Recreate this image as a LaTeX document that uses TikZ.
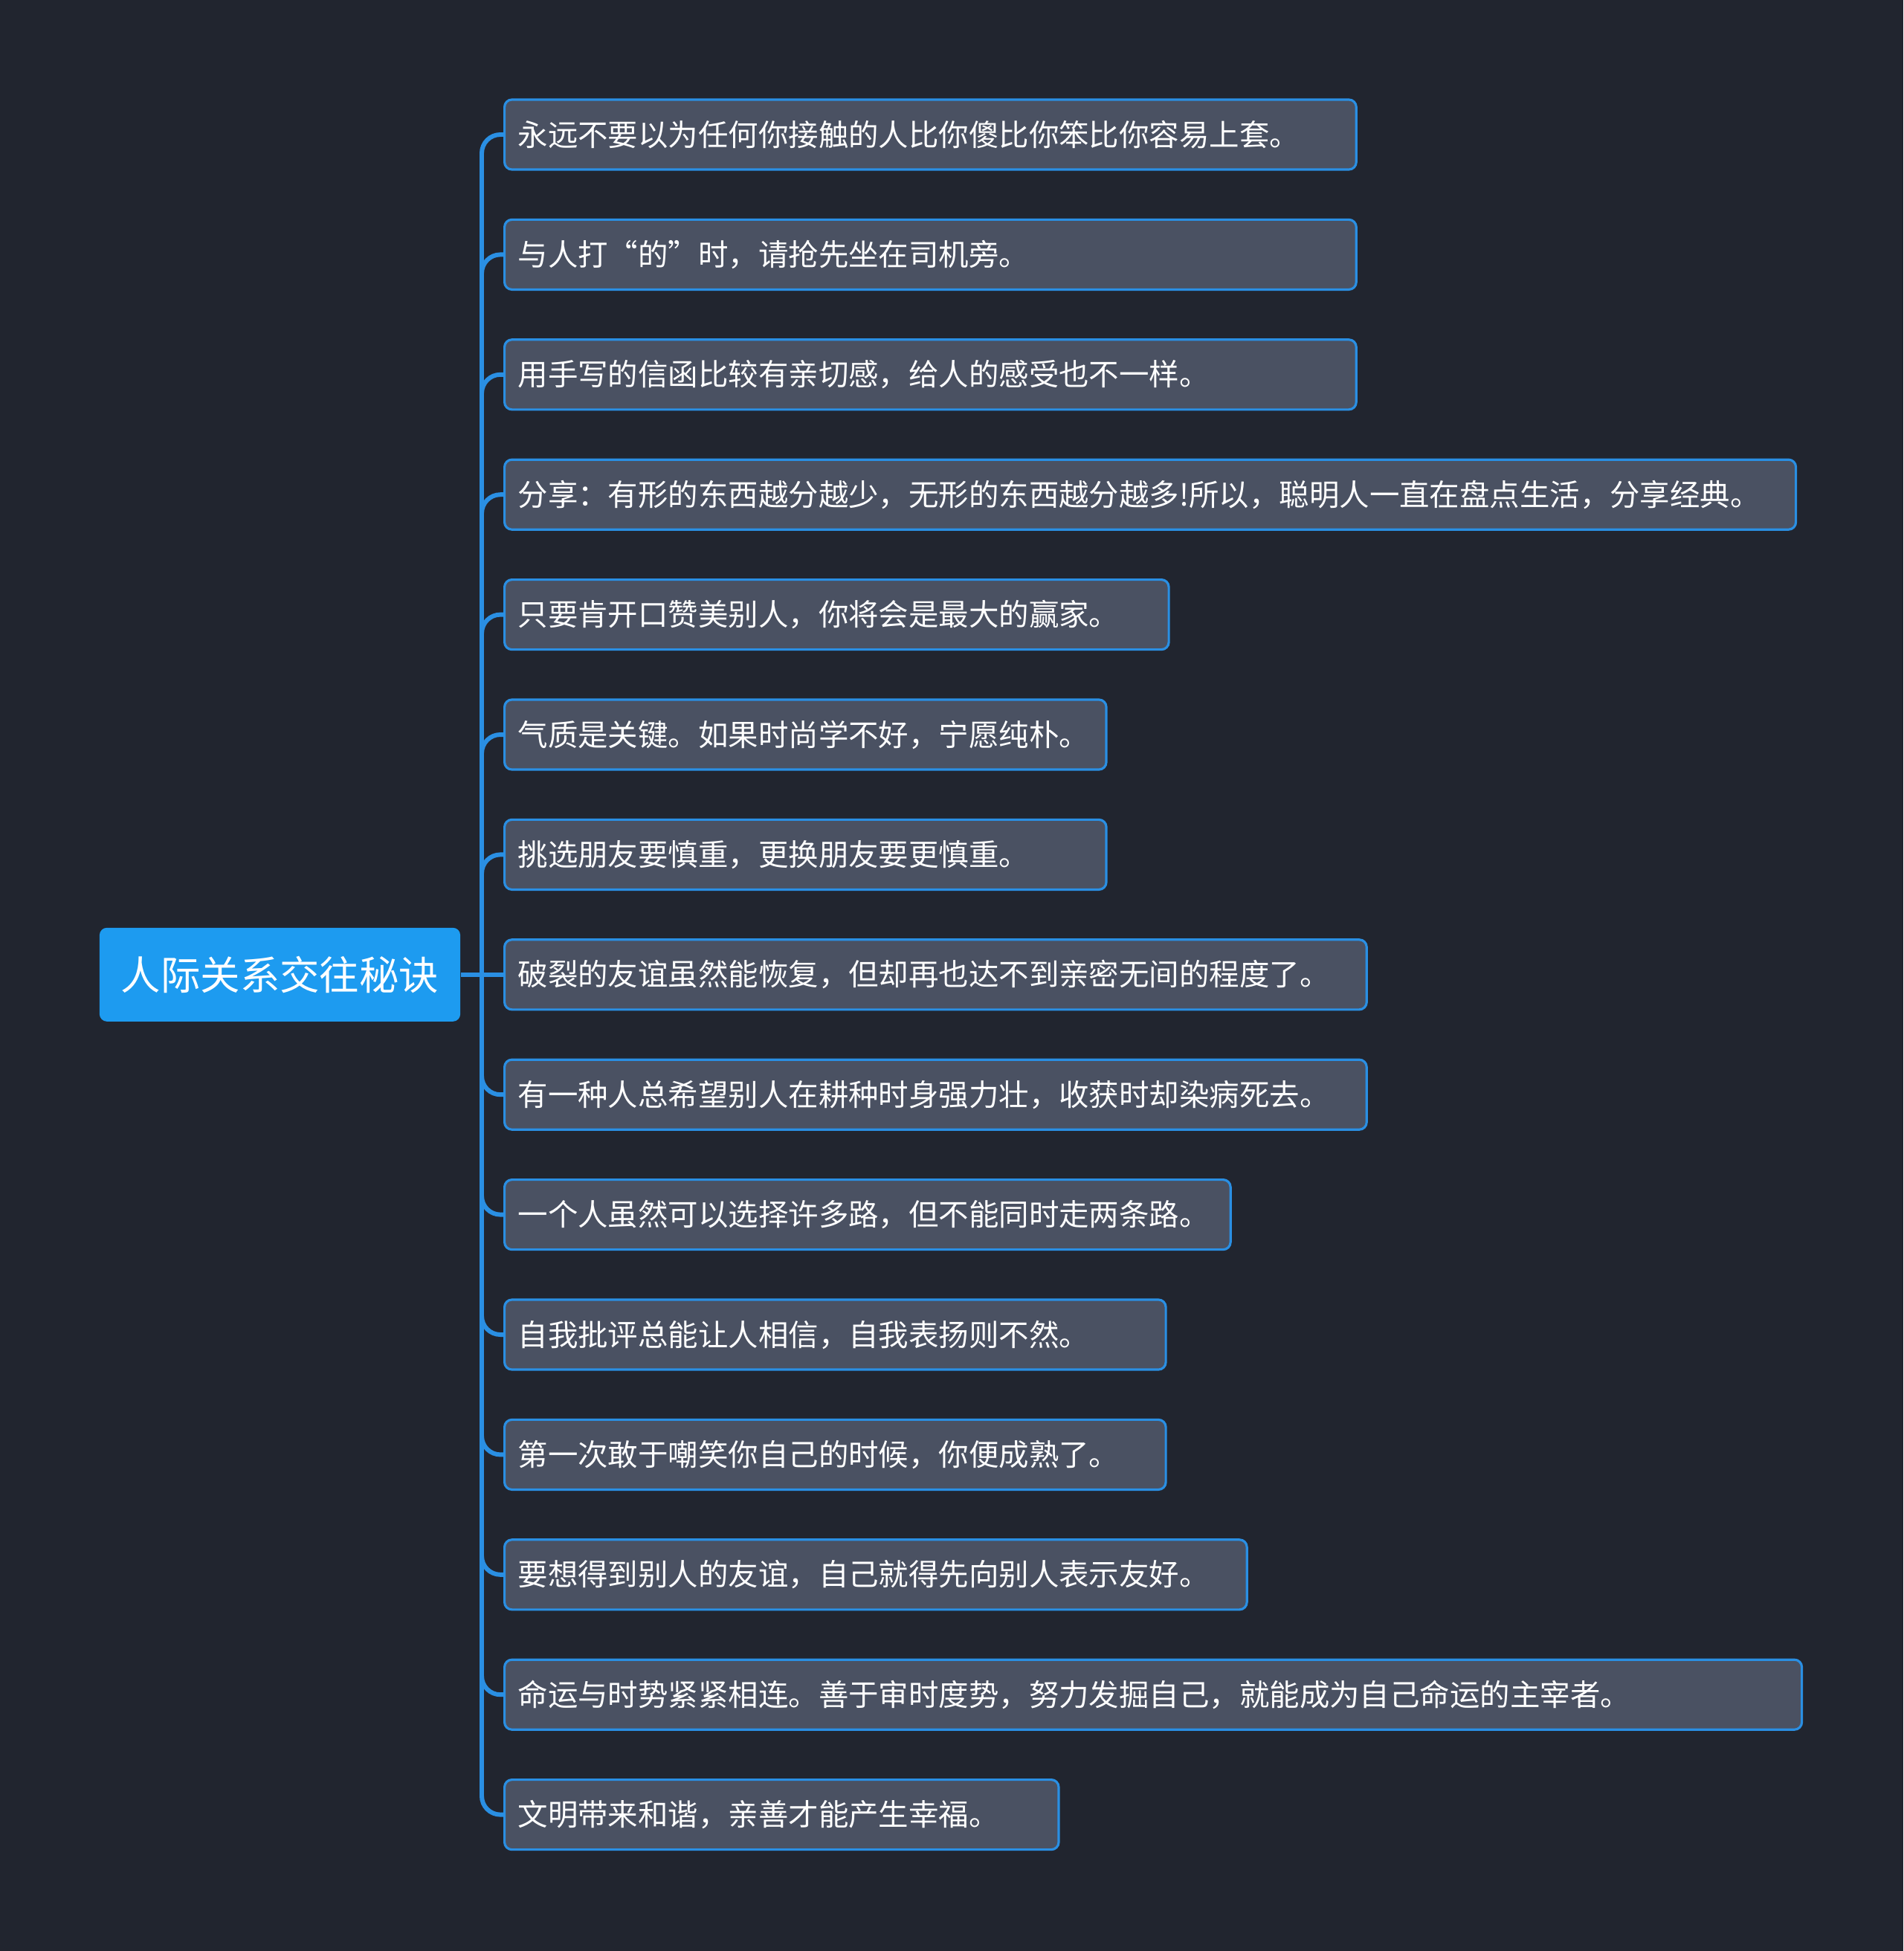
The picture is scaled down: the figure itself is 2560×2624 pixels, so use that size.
\documentclass[tikz,border=0pt]{standalone}
\usepackage{fontspec}
\setmainfont{Noto Sans CJK SC}
\usepackage{tikz}
\definecolor{bgdark}{HTML}{21252F}
\definecolor{rootblue}{HTML}{1D9BF0}
\definecolor{leaffill}{HTML}{4A5162}
\definecolor{edgeblue}{HTML}{2A8FE3}
\begin{document}
\begin{tikzpicture}[x=0.01cm,y=-0.01cm,
  rt/.style={fill=rootblue,rounded corners=0.1cm,text=white,font=\fontsize{15.2}{18}\selectfont,minimum width=4.85cm,minimum height=1.26cm,inner sep=0pt},
  lf/.style={draw=edgeblue,line width=0.9pt,fill=leaffill,rounded corners=0.1cm,text=white,font=\fontsize{11.5}{14}\selectfont,anchor=west,align=left,text width=#1,minimum height=0.94cm,inner xsep=0.18cm,inner ysep=0pt},
  ln/.style={draw=edgeblue,line width=1.7pt,rounded corners=0.25cm}]
\fill[bgdark] (0,0) rectangle (2560,2624);
\node[rt] (main) at (376.5,1310.8) {人际关系交往秘诀};
\node[lf=11.09cm] (s1) at (677,181) {永远不要以为任何你接触的人比你傻比你笨比你容易上套。};
\node[lf=11.09cm] (s2) at (677,342.4) {与人打“的”时，请抢先坐在司机旁。};
\node[lf=11.09cm] (s3) at (677,503.8) {用手写的信函比较有亲切感，给人的感受也不一样。};
\node[lf=17.00cm] (s4) at (677,665.2) {分享：有形的东西越分越少，无形的东西越分越多!所以，聪明人一直在盘点生活，分享经典。};
\node[lf=8.57cm] (s5) at (677,826.6) {只要肯开口赞美别人，你将会是最大的赢家。};
\node[lf=7.73cm] (s6) at (677,988) {气质是关键。如果时尚学不好，宁愿纯朴。};
\node[lf=7.73cm] (s7) at (677,1149.4) {挑选朋友要慎重，更换朋友要更慎重。};
\node[lf=11.23cm] (s8) at (677,1310.8) {破裂的友谊虽然能恢复，但却再也达不到亲密无间的程度了。};
\node[lf=11.23cm] (s9) at (677,1472.2) {有一种人总希望别人在耕种时身强力壮，收获时却染病死去。};
\node[lf=9.40cm] (s10) at (677,1633.6) {一个人虽然可以选择许多路，但不能同时走两条路。};
\node[lf=8.53cm] (s11) at (677,1795) {自我批评总能让人相信，自我表扬则不然。};
\node[lf=8.53cm] (s12) at (677,1956.4) {第一次敢于嘲笑你自己的时候，你便成熟了。};
\node[lf=9.62cm] (s13) at (677,2117.8) {要想得到别人的友谊，自己就得先向别人表示友好。};
\node[lf=17.08cm] (s14) at (677,2279.2) {命运与时势紧紧相连。善于审时度势，努力发掘自己，就能成为自己命运的主宰者。};
\node[lf=7.09cm] (s15) at (677,2440.6) {文明带来和谐，亲善才能产生幸福。};
\coordinate (hub) at (648,1310.8);
\draw[ln] (main.east) -- (s8.west);
\draw[ln] (hub) |- (s1.west); \draw[ln] (hub) |- (s2.west); \draw[ln] (hub) |- (s3.west);
\draw[ln] (hub) |- (s4.west); \draw[ln] (hub) |- (s5.west); \draw[ln] (hub) |- (s6.west);
\draw[ln] (hub) |- (s7.west); \draw[ln] (hub) |- (s9.west); \draw[ln] (hub) |- (s10.west);
\draw[ln] (hub) |- (s11.west); \draw[ln] (hub) |- (s12.west); \draw[ln] (hub) |- (s13.west);
\draw[ln] (hub) |- (s14.west); \draw[ln] (hub) |- (s15.west);
\end{tikzpicture}
\end{document}
